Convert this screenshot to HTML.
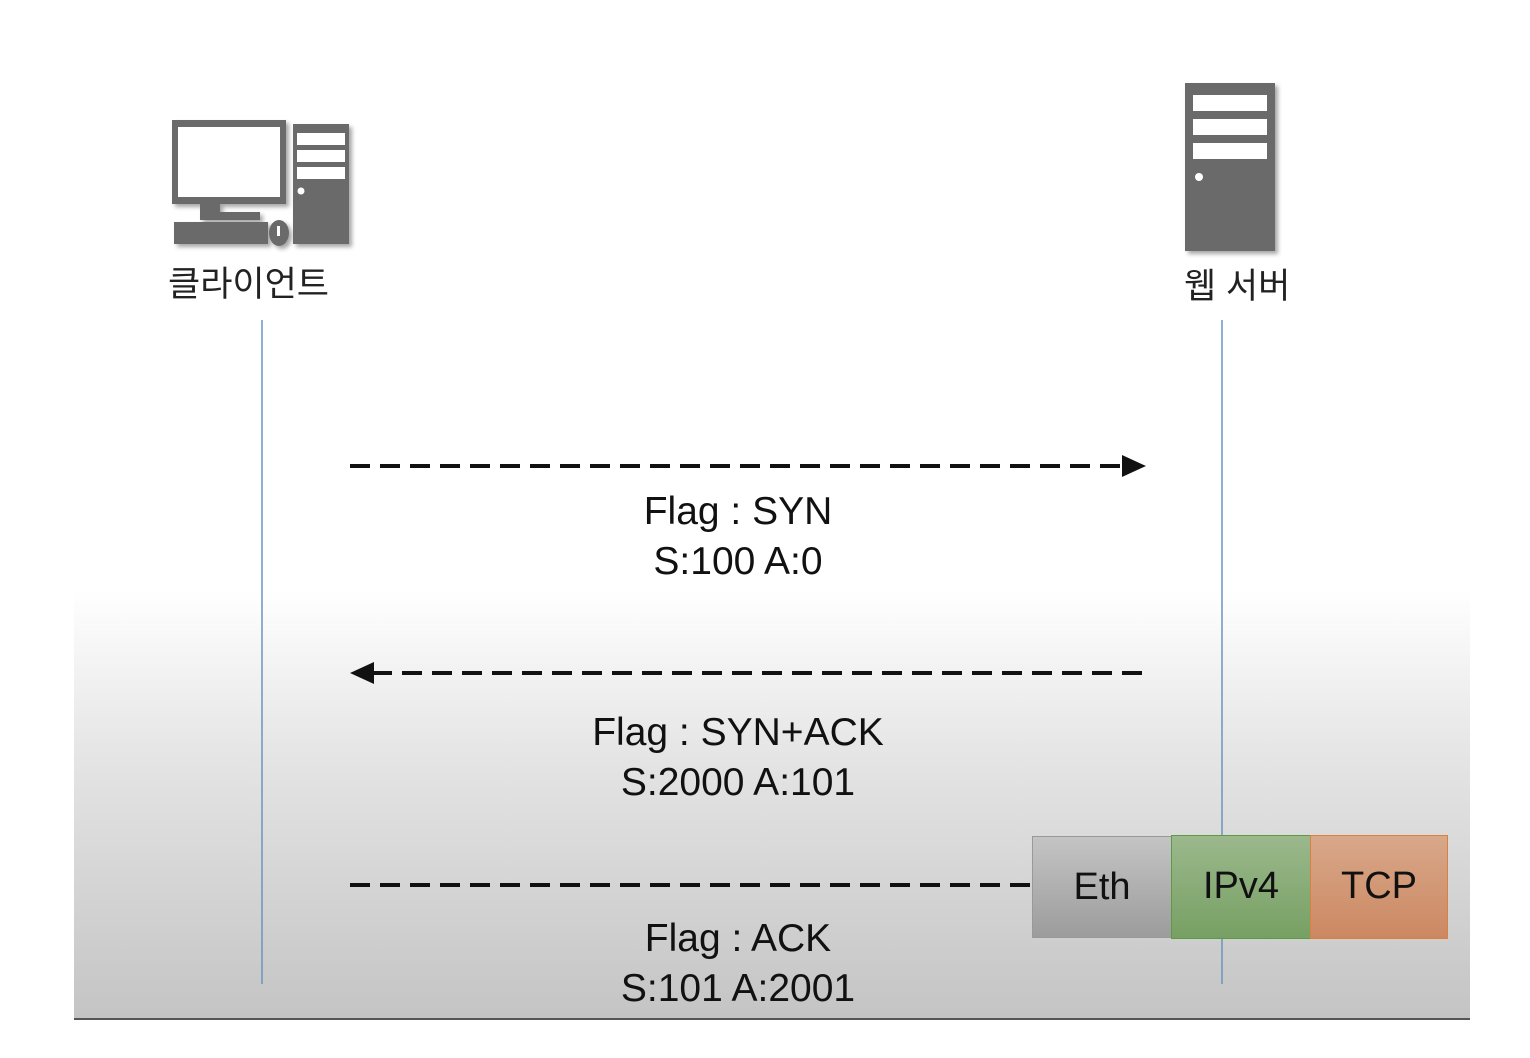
<!DOCTYPE html><html><head><meta charset="utf-8"><style>
body{margin:0;width:1530px;height:1058px;background:#fff;position:relative;overflow:hidden;font-family:"Liberation Sans","Noto Sans CJK KR",sans-serif}
.bg{position:absolute;left:74px;top:590px;width:1396px;height:428px;background:linear-gradient(#fff,#e4e4e4 40%,#c4c4c4);border-bottom:2px solid #555}
.t{position:absolute;left:438px;width:600px;text-align:center;font-size:39px;line-height:50px;color:#111}
.box{position:absolute;top:836px;height:102px;box-sizing:border-box;font-size:38px;line-height:100px;text-align:center;color:#111}
</style></head><body>
<div class="bg"></div>
<svg width="1530" height="1058" style="position:absolute;left:0;top:0">
<defs><filter id="s"><feDropShadow dx="3" dy="3" stdDeviation="2" flood-opacity=".35"/></filter></defs>
<g fill="#6b6b6b" filter="url(#s)">
<rect x="172" y="120" width="114" height="84"/>
<rect x="200" y="204" width="20" height="10"/><rect x="200" y="212" width="60" height="8"/>
<rect x="174" y="222" width="94" height="22"/>
<ellipse cx="279" cy="233" rx="10" ry="13"/>
<rect x="293" y="124" width="56" height="120"/>
<rect x="1185" y="83" width="90" height="168"/>
</g>
<g fill="#fff">
<rect x="178" y="127" width="102" height="70"/>
<rect x="297" y="133" width="48" height="12"/><rect x="297" y="150" width="48" height="12"/><rect x="297" y="167" width="48" height="12"/>
<circle cx="301" cy="191" r="3.5"/>
<rect x="277" y="226" width="3" height="10"/>
<rect x="1193" y="95" width="74" height="16"/><rect x="1193" y="119" width="74" height="16"/><rect x="1193" y="143" width="74" height="16"/>
<circle cx="1199" cy="177" r="4"/>
</g>
<line x1="262" y1="320" x2="262" y2="984" stroke="#6a95c0" stroke-width="1.5"/>
<line x1="1222" y1="320" x2="1222" y2="984" stroke="#6a95c0" stroke-width="1.5"/>
<g stroke="#111" stroke-width="4" stroke-dasharray="20 10">
<line x1="350" y1="466" x2="1125" y2="466"/>
<line x1="372" y1="673" x2="1146" y2="673"/>
<line x1="350" y1="885" x2="1032" y2="885"/>
</g>
<polygon points="1122,455 1146,466 1122,477" fill="#111"/>
<polygon points="374,662 350,673 374,684" fill="#111"/>
</svg>
<div style="position:absolute;left:168px;top:256px;font-size:35px;color:#222">클라이언트</div>
<div style="position:absolute;left:1184px;top:258px;font-size:35px;color:#222">웹 서버</div>
<div class="t" style="top:487px">Flag : SYN<br>S:100 A:0</div>
<div class="t" style="top:708px">Flag : SYN+ACK<br>S:2000 A:101</div>
<div class="t" style="top:914px">Flag : ACK<br>S:101 A:2001</div>
<div class="box" style="left:1032px;width:140px;background:linear-gradient(#c4c4c4,#9c9c9c);border:1px solid #999">Eth</div>
<div class="box" style="left:1171px;width:140px;background:linear-gradient(#9bb88c,#77a063);border:1.5px solid #5d9a45;top:835px;height:104px">IPv4</div>
<div class="box" style="left:1310px;width:138px;background:linear-gradient(#d8a88a,#cc8862);border:1.5px solid #d9823e;top:835px;height:104px">TCP</div>
</body></html>
